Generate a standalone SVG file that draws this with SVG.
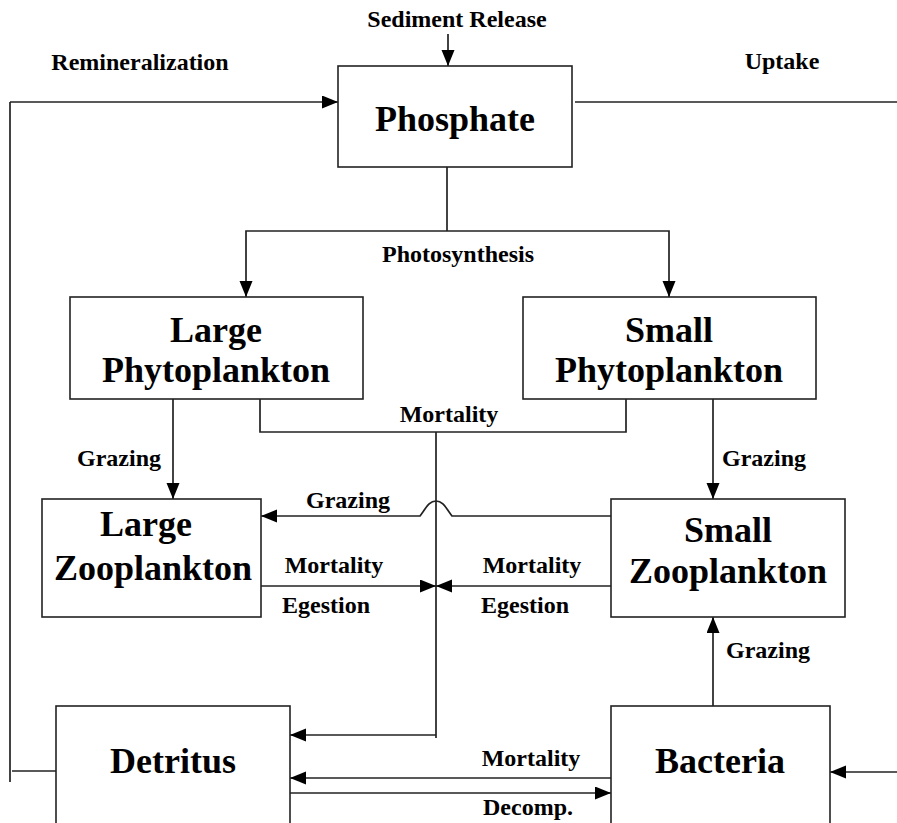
<svg xmlns="http://www.w3.org/2000/svg" width="897" height="823" viewBox="0 0 897 823">
<style>
.box{fill:#fff;stroke:#222;stroke-width:1.6}
.ln{fill:none;stroke:#222;stroke-width:1.7}
.arr{marker-end:url(#ah)}
.nt{font-family:"Liberation Serif","Times New Roman",serif;font-weight:bold;font-size:36px;fill:#000;text-anchor:middle}
.lt{font-family:"Liberation Serif","Times New Roman",serif;font-weight:bold;font-size:24px;fill:#000;text-anchor:middle}
</style>
<defs>
<marker id="ah" markerUnits="userSpaceOnUse" markerWidth="17" markerHeight="14" refX="16" refY="6.5" orient="auto">
<path d="M0,0 L16,6.5 L0,13 z" fill="#000"/>
</marker>
</defs>
<rect width="897" height="823" fill="#fff"/>
<g id="connectors">
<path class="ln arr" d="M448,34 L448,66"/>
<path class="ln arr" d="M10,102 L338,102"/>
<path class="ln" d="M10,102 L10,782"/>
<path class="ln" d="M12,771 L56,771"/>
<path class="ln" d="M575,102 L897,102"/>
<path class="ln" d="M447,167 L447,231"/>
<path class="ln arr" d="M447,231 L246,231 L246,297"/>
<path class="ln arr" d="M447,231 L669,231 L669,297"/>
<path class="ln" d="M260,399 L260,432 L626,432 L626,399"/>
<path class="ln" d="M436,432 L436,738"/>
<path class="ln arr" d="M436,735 L290,735"/>
<path class="ln arr" d="M173,399 L173,499"/>
<path class="ln arr" d="M713,399 L713,499"/>
<path class="ln arr" d="M611,516 L452,516 C446,508 443,501 436,501 C429,501 426,508 420,516 L261,516"/>
<path class="ln arr" d="M261,586 L436,586"/>
<path class="ln arr" d="M611,586 L436,586"/>
<path class="ln arr" d="M713,706 L713,617"/>
<path class="ln arr" d="M611,778 L290,778"/>
<path class="ln arr" d="M290,793 L611,793"/>
<path class="ln arr" d="M897,772 L830,772"/>
</g>
<g id="labels">
<text class="lt" x="457" y="27">Sediment Release</text>
<text class="lt" x="140" y="70">Remineralization</text>
<text class="lt" x="782" y="69">Uptake</text>
<text class="lt" x="458" y="262">Photosynthesis</text>
<text class="lt" x="449" y="422">Mortality</text>
<text class="lt" x="119" y="466">Grazing</text>
<text class="lt" x="764" y="466">Grazing</text>
<text class="lt" x="348" y="508">Grazing</text>
<text class="lt" x="334" y="573">Mortality</text>
<text class="lt" x="326" y="613">Egestion</text>
<text class="lt" x="532" y="573">Mortality</text>
<text class="lt" x="525" y="613">Egestion</text>
<text class="lt" x="768" y="658">Grazing</text>
<text class="lt" x="531" y="766">Mortality</text>
<text class="lt" x="528" y="815">Decomp.</text>
</g>
<g id="phosphate">
<rect class="box" x="338" y="66" width="234" height="101"/>
<text class="nt" x="455" y="131">Phosphate</text>
</g>
<g id="large-phytoplankton">
<rect class="box" x="70" y="297" width="293" height="102"/>
<text class="nt" x="216" y="342">Large</text>
<text class="nt" x="216" y="382">Phytoplankton</text>
</g>
<g id="small-phytoplankton">
<rect class="box" x="523" y="297" width="293" height="102"/>
<text class="nt" x="669" y="342">Small</text>
<text class="nt" x="669" y="382">Phytoplankton</text>
</g>
<g id="large-zooplankton">
<rect class="box" x="42" y="499" width="219" height="118"/>
<text class="nt" x="146" y="536">Large</text>
<text class="nt" x="153" y="580">Zooplankton</text>
</g>
<g id="small-zooplankton">
<rect class="box" x="611" y="499" width="234" height="118"/>
<text class="nt" x="728" y="542">Small</text>
<text class="nt" x="728" y="583">Zooplankton</text>
</g>
<g id="detritus">
<rect class="box" x="56" y="706" width="234" height="130"/>
<text class="nt" x="173" y="773">Detritus</text>
</g>
<g id="bacteria">
<rect class="box" x="611" y="706" width="219" height="130"/>
<text class="nt" x="720" y="773">Bacteria</text>
</g>
</svg>
